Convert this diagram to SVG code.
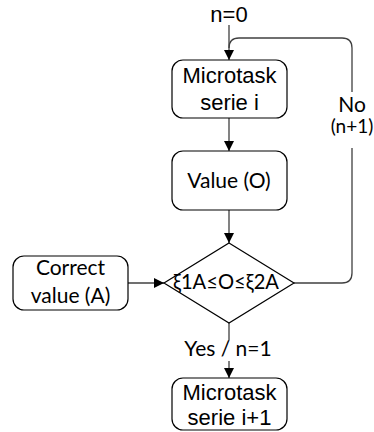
<svg xmlns="http://www.w3.org/2000/svg" width="374" height="432" viewBox="0 0 374 432">
  <style>
    .box { fill: #ffffff; stroke: #000000; stroke-width: 1.2; }
    .edge { fill: none; stroke: #404040; stroke-width: 1.3; }
    .arial { font-family: "Liberation Sans", Arial, sans-serif; font-size: 22px; fill: #000000; text-anchor: middle; }
    .cal { font-family: Lato, "Open Sans", sans-serif; font-size: 21px; fill: #000000; text-anchor: middle; }
  </style>
  <defs>
    <marker id="arrow" markerWidth="10" markerHeight="10" refX="10" refY="5" orient="auto" markerUnits="userSpaceOnUse">
      <path d="M0,0 L10,5 L0,10 Z" fill="#000000"/>
    </marker>
  </defs>

  <rect width="374" height="432" fill="#ffffff"/>

  <g id="connectors">
    <!-- entry -->
    <path class="edge" d="M229,25 V60" marker-end="url(#arrow)"/>
    <!-- microtask -> value -->
    <path class="edge" d="M229,118 V151" marker-end="url(#arrow)"/>
    <!-- value -> decision -->
    <path class="edge" d="M229,210 V243" marker-end="url(#arrow)"/>
    <!-- correct value -> decision -->
    <path class="edge" d="M128,283 H164" marker-end="url(#arrow)"/>
    <!-- no branch: loop back -->
    <path class="edge" d="M294,283 H342 Q352,283 352,273 V148 M352,92 V48 Q352,38 342,38 H239 Q229,38 229,48"/>
    <!-- yes branch -->
    <path class="edge" d="M229,323 V340 M229,361 V378" marker-end="url(#arrow)"/>
  </g>

  <g id="start-label">
    <text class="arial" x="229" y="22">n=0</text>
  </g>

  <g id="microtask-i">
    <rect class="box" x="172" y="60" width="115" height="58" rx="11"/>
    <text class="arial" x="229.5" y="83">Microtask</text>
    <text class="arial" x="229.5" y="110">serie i</text>
  </g>

  <g id="value-o">
    <rect class="box" x="172" y="151" width="115" height="59" rx="11"/>
    <text class="cal" x="229" y="188">Value (O)</text>
  </g>

  <g id="correct-value">
    <rect class="box" x="13" y="256" width="115" height="54" rx="11"/>
    <text class="cal" x="70.5" y="275">Correct</text>
    <text class="cal" x="70.5" y="303">value (A)</text>
  </g>

  <g id="decision">
    <polygon class="box" points="229,243 294,283 229,323 164,283"/>
    <text class="cal" x="226" y="289" textLength="106" lengthAdjust="spacingAndGlyphs">ξ1A≤O≤ξ2A</text>
  </g>

  <g id="no-label">
    <text class="cal" x="352" y="112">No</text>
    <text class="cal" x="352" y="133" style="font-size:19px">(n+1)</text>
  </g>

  <g id="yes-label">
    <text class="cal" x="228" y="356">Yes / n=1</text>
  </g>

  <g id="microtask-i1">
    <rect class="box" x="172" y="378" width="115" height="52" rx="11"/>
    <text class="arial" x="229.5" y="400">Microtask</text>
    <text class="arial" x="229.5" y="425">serie i+1</text>
  </g>
</svg>
